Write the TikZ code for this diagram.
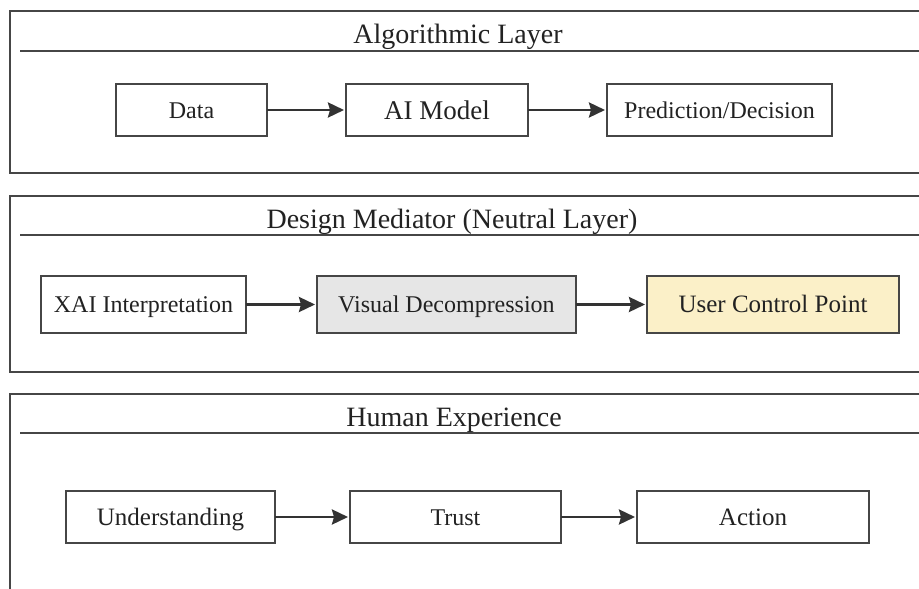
\documentclass[tikz,border=0pt]{standalone}
\usepackage{fontspec}
\setmainfont{Liberation Serif}
\usetikzlibrary{arrows.meta}

\definecolor{linegray}{HTML}{464646}
\definecolor{arrowgray}{HTML}{333333}
\definecolor{textgray}{HTML}{222222}
\definecolor{boxgray}{HTML}{E6E6E6}
\definecolor{boxyellow}{HTML}{FBF0C8}

\tikzset{
  frame/.style={draw=linegray, line width=1.8pt},
  sepline/.style={draw=linegray, line width=1.2pt},
  heading/.style={anchor=base, text=textgray, font=\fontsize{28}{32}\selectfont},
  stage/.style={draw=linegray, line width=1.2pt, inner sep=0pt, outer sep=0pt,
    minimum height=52pt, text height=16pt, text depth=0pt,
    text=textgray, font=\fontsize{24}{28}\selectfont},
  flow/.style={draw=arrowgray, line width=2.8pt, shorten >=2pt,
    -{Stealth[length=16pt,width=15pt,inset=2pt]}}
}

\begin{document}
\begin{tikzpicture}[x=1pt, y=-1pt]
    \useasboundingbox (0,0) rectangle (919,589);
    \clip (0,0) rectangle (919,589);
    \fill[white] (0,0) rectangle (919,589);

    % Layer frames
    \draw[frame] (10,11) rectangle (930,173);
    \draw[frame] (10,196) rectangle (930,372);
    \draw[frame] (10,394) rectangle (930,600);

    % Heading rules
    \draw[sepline] (20,51) -- (930,51);
    \draw[sepline] (20,235) -- (930,235);
    \draw[sepline] (20,433) -- (930,433);

    % Headings
    \node[heading] (head1) at (458,43) {Algorithmic Layer};
    \node[heading] (head2) at (452,228) {Design Mediator (Neutral Layer)};
    \node[heading] (head3) at (454,426) {Human Experience};

    % Nodes
    \node[stage, minimum width=151pt] (node1) at (191.5,110) {Data};
    \node[stage, minimum width=182pt, text height=18pt, font=\fontsize{27}{30}\selectfont] (node2) at (437,110) {AI Model};
    \node[stage, minimum width=225pt] (node3) at (719.5,110) {Prediction/Decision};

    \node[stage, minimum width=205pt, minimum height=57pt] (node4) at (143.5,304.5) {XAI Interpretation};
    \node[stage, minimum width=259pt, minimum height=57pt, fill=boxgray] (node5) at (446.5,304.5) {Visual Decompression};
    \node[stage, minimum width=252pt, minimum height=57pt, fill=boxyellow, text height=16.5pt, font=\fontsize{25}{28}\selectfont] (node6) at (773,304.5) {User Control Point};

    \node[stage, minimum width=209pt, text height=16.5pt, font=\fontsize{25}{28}\selectfont] (node7) at (170.5,517) {Understanding};
    \node[stage, minimum width=211pt] (node8) at (455.5,517) {Trust};
    \node[stage, minimum width=232pt, text height=16.5pt, font=\fontsize{25}{28}\selectfont] (node9) at (753,517) {Action};

    % Connection
    \draw[flow] (node1) -- (node2);
    \draw[flow] (node2) -- (node3);
    \draw[flow] (node4) -- (node5);
    \draw[flow] (node5) -- (node6);
    \draw[flow] (node7) -- (node8);
    \draw[flow] (node8) -- (node9);
\end{tikzpicture}
\end{document}
